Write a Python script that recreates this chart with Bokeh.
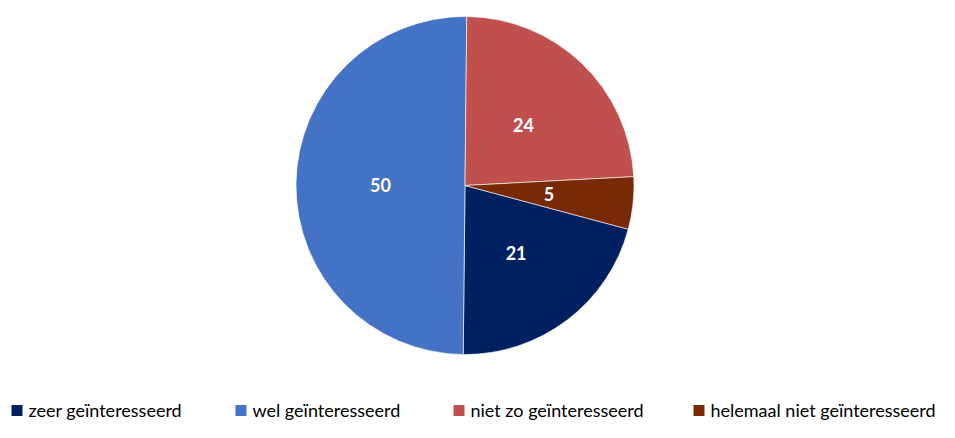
import math
from bokeh.plotting import figure
from bokeh.models import Range1d, ColumnDataSource
from bokeh.core.properties import value
from bokeh.embed import file_html
from bokeh.resources import INLINE

# ---- data ----
categories = ["zeer geïnteresseerd", "wel geïnteresseerd",
              "niet zo geïnteresseerd", "helemaal niet geïnteresseerd"]
values = [21, 50, 24, 5]
colors = ["#002060", "#4472C4", "#C0504D", "#782A06"]

# ---- layout (picture-like coordinates: x right, y = -picture_y) ----
W, H = 939, 422
cx, cy, R = 464.5, -185.0, 169.0
first_slice_deg = 105.0
label_frac = 0.5

total = float(sum(values))
starts, ends, lx, ly = [], [], [], []
acc = first_slice_deg
for v in values:
    a = acc
    b = acc + 360.0 * v / total
    acc = b
    starts.append(math.radians(90.0 - b))
    ends.append(math.radians(90.0 - a))
    mid = math.radians(90.0 - (a + b) / 2.0)
    lx.append(cx + label_frac * R * math.cos(mid))
    ly.append(cy + label_frac * R * math.sin(mid))

src = ColumnDataSource(dict(start=starts, end=ends, color=colors,
                            lx=lx, ly=ly, lab=[str(v) for v in values]))

p = figure(width=W, height=H, output_backend="svg", toolbar_location=None,
           x_range=Range1d(0, W), y_range=Range1d(-H, 0),
           min_border=0, outline_line_color=None)
p.axis.visible = False
p.grid.visible = False
p.background_fill_color = "white"
p.border_fill_color = "white"

p.wedge(x=cx, y=cy, radius=R, start_angle="start", end_angle="end",
        direction="anticlock", fill_color="color", line_color="white",
        line_width=0.6, source=src)

p.text(x="lx", y="ly", text="lab", source=src, text_color="white",
       text_font=value("Lato"), text_font_style="bold", text_font_size="18px",
       text_align="center", text_baseline="middle")

# ---- legend (manual) ----
sq_x = [11, 235, 453, 693]
txt_x = [28, 252, 470, 710]
mid_y = -409.0
sq = 11
p.rect(x=[x + sq / 2 for x in sq_x], y=[mid_y - 1] * 4, width=sq, height=sq,
       fill_color=colors, line_color=None)
p.text(x=txt_x, y=[mid_y] * 4, text=categories, text_color="#000000",
       text_font=value("Lato"), text_font_size="18px",
       text_align="left", text_baseline="middle")

open("out.html", "w").write(file_html(p, INLINE))
